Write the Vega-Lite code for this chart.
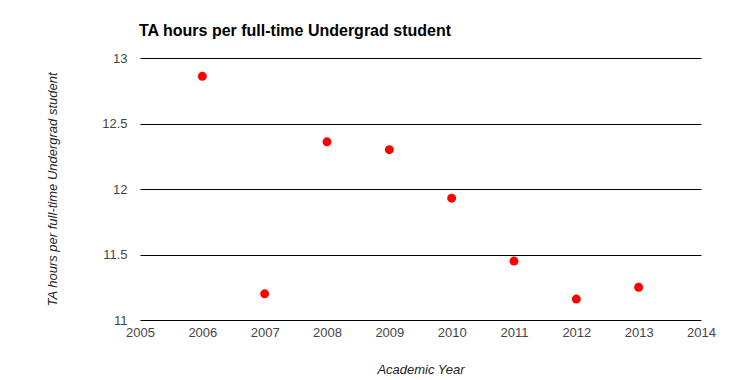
{
  "$schema": "https://vega.github.io/schema/vega-lite/v6.json",
  "autosize": "none",
  "width": 561,
  "height": 262,
  "padding": {"left": 140, "top": 58, "right": 34, "bottom": 60},
  "background": "white",
  "title": {
    "text": "TA hours per full-time Undergrad student",
    "anchor": "start",
    "frame": "group",
    "font": "Liberation Sans",
    "fontSize": 16,
    "fontWeight": "bold",
    "color": "#000000",
    "offset": 13,
    "dx": -1
  },
  "config": {
    "view": {"stroke": null},
    "font": "Liberation Sans"
  },
  "data": {
    "values": [
      {"year": 2006, "hours": 12.86},
      {"year": 2007, "hours": 11.20},
      {"year": 2008, "hours": 12.36},
      {"year": 2009, "hours": 12.30},
      {"year": 2010, "hours": 11.93},
      {"year": 2011, "hours": 11.45},
      {"year": 2012, "hours": 11.16},
      {"year": 2013, "hours": 11.25}
    ]
  },
  "mark": {"type": "point", "filled": true, "color": "#ff0000", "opacity": 1, "size": 80},
  "encoding": {
    "x": {
      "field": "year",
      "type": "quantitative",
      "scale": {"domain": [2005, 2014], "nice": false, "zero": false},
      "axis": {
        "values": [2005, 2006, 2007, 2008, 2009, 2010, 2011, 2012, 2013, 2014],
        "format": "d",
        "domain": false,
        "ticks": false,
        "grid": false,
        "labelFont": "Liberation Sans",
        "labelFontSize": 13,
        "labelColor": "#444444",
        "labelPadding": 6,
        "labelFlush": false,
        "title": "Academic Year",
        "titleFont": "Liberation Sans",
        "titleFontSize": 13,
        "titleFontStyle": "italic",
        "titleFontWeight": "normal",
        "titleColor": "#222222",
        "titlePadding": 24
      }
    },
    "y": {
      "field": "hours",
      "type": "quantitative",
      "scale": {"domain": [11, 13], "nice": false, "zero": false},
      "axis": {
        "values": [11, 11.5, 12, 12.5, 13],
        "format": "~g",
        "domain": false,
        "ticks": false,
        "grid": true,
        "gridColor": "#000000",
        "gridOpacity": 1,
        "gridWidth": 1,
        "labelFont": "Liberation Sans",
        "labelFontSize": 13,
        "labelColor": "#444444",
        "labelPadding": 13,
        "title": "TA hours per full-time Undergrad student",
        "titleFont": "Liberation Sans",
        "titleFontSize": 13,
        "titleFontStyle": "italic",
        "titleFontWeight": "normal",
        "titleColor": "#222222",
        "titlePadding": 42
      }
    }
  }
}
